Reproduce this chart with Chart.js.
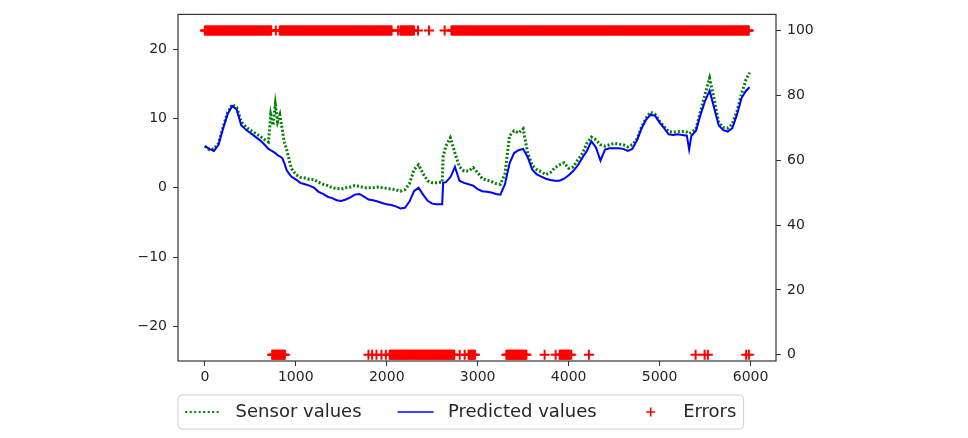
<!DOCTYPE html>
<html lang="en">
<head>
<meta charset="UTF-8">
<title>Sensor values vs predicted values</title>
<style>
  body { margin: 0; background: #fff; }
  #chart { display: block; }
</style>
</head>
<body>
<canvas id="chart" width="968" height="438"></canvas>
<script src="https://cdn.jsdelivr.net/npm/chart.js"></script>
<script>
// sample positions (x axis) shared by both lines
const steps = [0, 50, 100, 150, 200, 250, 300, 350, 400, 450, 500, 550, 600, 650, 700, 725, 750, 775, 800, 825, 850, 875, 900, 950,
  1000, 1050, 1100, 1150, 1200, 1250, 1300, 1350, 1400, 1450, 1500, 1550, 1600, 1650, 1700, 1750, 1800, 1850, 1900, 1950,
  2000, 2050, 2100, 2150, 2200, 2250, 2300, 2350, 2400, 2450, 2500, 2550, 2600, 2610, 2620, 2650, 2700, 2750, 2800, 2850,
  2900, 2950, 3000, 3050, 3100, 3150, 3200, 3250, 3300, 3350, 3400, 3450, 3500, 3550, 3600, 3650, 3700, 3750, 3800, 3850,
  3900, 3950, 4000, 4050, 4100, 4150, 4200, 4250, 4300, 4350, 4400, 4450, 4500, 4550, 4600, 4650, 4700, 4750, 4800, 4850,
  4900, 4950, 5000, 5050, 5100, 5150, 5200, 5250, 5300, 5325, 5350, 5400, 5450, 5500, 5550, 5600, 5650, 5700, 5750, 5800,
  5850, 5900, 5950, 5990];

const sensorValues = [6.0, 5.5, 5.6, 6.4, 8.7, 10.8, 12.0, 11.6, 9.5, 8.8, 8.3, 7.9, 7.5, 7.0, 6.6, 10.5, 9.0, 12.0, 9.5, 10.5, 8.5, 6.5, 5.5, 2.8,
  1.9, 1.5, 1.4, 1.2, 1.2, 0.8, 0.5, 0.3, 0.0, -0.1, -0.2, 0.0, 0.1, 0.3, 0.2, 0.0, 0.0, 0.0, 0.1, 0.0,
  -0.1, -0.2, -0.3, -0.5, -0.3, 0.6, 2.6, 3.3, 2.0, 1.0, 0.7, 0.7, 0.8, 0.8, 4.5, 6.0, 7.2, 5.0, 3.0, 2.4,
  2.4, 2.9, 2.2, 1.3, 1.1, 0.9, 0.6, 0.5, 2.0, 7.5, 8.2, 7.9, 8.5, 5.0, 3.2, 2.6, 2.3, 1.9, 2.2, 2.9,
  3.3, 3.6, 2.8, 3.0, 4.0, 4.9, 6.4, 7.3, 6.9, 6.2, 6.0, 6.2, 6.4, 6.3, 6.2, 5.9, 6.2, 7.0, 8.7, 10.0,
  10.9, 10.6, 9.6, 8.8, 8.1, 8.0, 8.1, 8.1, 8.0, 7.8, 8.0, 8.5, 11.0, 13.5, 15.8, 12.8, 9.4, 8.7, 8.6, 9.2,
  11.0, 13.5, 15.6, 16.6];

const predictedValues = [6.0, 5.6, 5.3, 6.2, 8.5, 10.6, 11.8, 11.3, 9.0, 8.4, 7.9, 7.4, 6.9, 6.3, 5.6, 5.4, 5.2, 5.0, 4.7, 4.5, 4.3, 3.5, 2.5, 1.6,
  1.2, 0.7, 0.5, 0.3, 0.0, -0.6, -0.9, -1.3, -1.5, -1.8, -1.9, -1.7, -1.4, -1.0, -0.9, -1.3, -1.7, -1.8, -2.0, -2.2,
  -2.4, -2.5, -2.7, -3.0, -2.9, -2.0, -0.5, 0.0, -1.0, -1.9, -2.3, -2.4, -2.4, -2.4, 0.7, 0.8, 1.5, 3.0, 1.0, 0.7,
  0.5, 0.3, -0.2, -0.5, -0.6, -0.7, -0.9, -1.0, 0.5, 3.5, 5.0, 5.4, 5.6, 4.4, 2.6, 1.9, 1.6, 1.3, 1.1, 1.0,
  1.0, 1.3, 1.8, 2.4, 3.2, 4.3, 5.3, 6.7, 5.8, 3.9, 5.5, 5.7, 5.7, 5.7, 5.6, 5.3, 5.6, 6.8, 8.5, 9.8,
  10.5, 10.4, 9.4, 8.6, 7.7, 7.6, 7.7, 7.6, 7.5, 5.5, 7.5, 8.2, 10.5, 12.5, 14.0, 11.5, 9.0, 8.3, 8.1, 8.6,
  10.5, 12.9, 14.0, 14.5];

// error flags: runs of flagged samples [from, to] and single flagged samples
const errorTopRuns = [[0, 733], [824, 2062], [2150, 2300], [2711, 5989]];
const errorTopSingles = [780, 2125, 2344, 2465, 2637];
const errorBottomRuns = [[740, 880], [2033, 2747], [2900, 2970], [3315, 3535], [3901, 4011]];
const errorBottomSingles = [1799, 1839, 1887, 1942, 1990, 2802, 2857, 3736, 3857, 4029, 4223, 5396, 5495, 5531, 5952, 5982];
const errorLevels = [100, 0];   // top row / bottom row on right axis

const leftTicks = [-20, -10, 0, 10, 20];
const rightTicks = [0, 20, 40, 60, 80, 100];
const xTicks = [0, 1000, 2000, 3000, 4000, 5000, 6000];

const FONT = "'DejaVu Sans', sans-serif";
const INK = '#262626';

function flagged(runs, singles, level) {
  const pts = [];
  runs.forEach(([a, b]) => {
    for (let s = a; s <= b; s += 10) pts.push({ x: s, y: level });
  });
  singles.forEach(s => pts.push({ x: s, y: level }));
  return pts;
}

const errorPoints = flagged(errorTopRuns, errorTopSingles, errorLevels[0])
  .concat(flagged(errorBottomRuns, errorBottomSingles, errorLevels[1]));

function keepTicks(list) {
  return scale => { scale.ticks = list.map(v => ({ value: v })); };
}

const frame = {
  id: 'frame',
  afterDraw(chart) {
    const { ctx, chartArea: a } = chart;
    ctx.save();
    ctx.strokeStyle = '#333';
    ctx.lineWidth = 1.2;
    ctx.strokeRect(a.left, a.top, a.right - a.left, a.bottom - a.top);
    ctx.restore();
  }
};

// matplotlib-like legend under the axes
const bottomLegend = {
  id: 'bottomLegend',
  afterDraw(chart) {
    const ctx = chart.ctx;
    const fs = 18;
    const cy = 412;
    const left = 178;
    ctx.save();
    ctx.font = fs + 'px ' + FONT;
    const items = [
      { label: 'Sensor values', kind: 'dots' },
      { label: 'Predicted values', kind: 'line' },
      { label: 'Errors', kind: 'plus' }
    ];
    let x = left + 0.4 * fs;
    const layout = items.map(it => {
      const w = ctx.measureText(it.label).width;
      const o = { ...it, hx: x, tx: x + 2 * fs + 0.8 * fs, w };
      x = o.tx + w + 2 * fs;
      return o;
    });
    const last = layout[layout.length - 1];
    const right = last.tx + last.w + 0.4 * fs;
    const top = 395, h = 34, r = 4;
    ctx.beginPath();
    ctx.moveTo(left + r, top);
    ctx.arcTo(right, top, right, top + h, r);
    ctx.arcTo(right, top + h, left, top + h, r);
    ctx.arcTo(left, top + h, left, top, r);
    ctx.arcTo(left, top, right, top, r);
    ctx.closePath();
    ctx.fillStyle = 'rgba(255,255,255,0.8)';
    ctx.fill();
    ctx.strokeStyle = '#d0d0d0';
    ctx.lineWidth = 1;
    ctx.stroke();

    layout.forEach(it => {
      const hx = it.hx, hw = 2 * fs;
      if (it.kind === 'dots') {
        ctx.strokeStyle = '#008000';
        ctx.lineWidth = 2;
        ctx.setLineDash([2, 2.5]);
        ctx.beginPath(); ctx.moveTo(hx, cy); ctx.lineTo(hx + hw, cy); ctx.stroke();
        ctx.setLineDash([]);
      } else if (it.kind === 'line') {
        ctx.strokeStyle = '#0000ff';
        ctx.lineWidth = 1.5;
        ctx.beginPath(); ctx.moveTo(hx, cy); ctx.lineTo(hx + hw, cy); ctx.stroke();
      } else {
        const c = hx + hw / 2;
        ctx.strokeStyle = '#ff0000';
        ctx.lineWidth = 1.5;
        ctx.beginPath();
        ctx.moveTo(c - 4.5, cy); ctx.lineTo(c + 4.5, cy);
        ctx.moveTo(c, cy - 4.5); ctx.lineTo(c, cy + 4.5);
        ctx.stroke();
      }
      ctx.fillStyle = INK;
      ctx.textBaseline = 'middle';
      ctx.fillText(it.label, it.tx, cy);
    });
    ctx.restore();
  }
};

const tickGrid = { display: true, drawOnChartArea: false, drawTicks: true, tickLength: 5, color: '#333', lineWidth: 1 };
const tickFont = { family: FONT, size: 14 };

const config = {
  type: 'line',
  data: {
    datasets: [
      {
        label: 'Sensor values',
        data: steps.map((s, i) => ({ x: s, y: sensorValues[i] })),
        borderColor: '#008000',
        borderWidth: 3,
        borderDash: [2, 2],
        pointRadius: 0,
        tension: 0,
        yAxisID: 'y',
        order: 2
      },
      {
        label: 'Predicted values',
        data: steps.map((s, i) => ({ x: s, y: predictedValues[i] })),
        borderColor: '#0000ff',
        borderWidth: 2,
        pointRadius: 0,
        tension: 0,
        yAxisID: 'y',
        order: 1
      },
      {
        label: 'Errors',
        data: errorPoints,
        showLine: false,
        pointStyle: 'cross',
        pointRadius: 5,
        pointBorderWidth: 2,
        pointBorderColor: '#ff0000',
        pointBackgroundColor: '#ff0000',
        borderColor: '#ff0000',
        yAxisID: 'y2',
        order: 0
      }
    ]
  },
  options: {
    responsive: false,
    animation: false,
    devicePixelRatio: 1,
    layout: { padding: { top: 12, bottom: 47, left: 0, right: 0 } },
    plugins: { legend: { display: false }, tooltip: { enabled: false } },
    scales: {
      x: {
        type: 'linear',
        min: -295,
        max: 6280,
        grid: tickGrid,
        border: { display: false },
        afterBuildTicks: keepTicks(xTicks),
        afterFit: s => { s.height = 30; },
        ticks: { font: tickFont, color: INK, padding: 3, maxRotation: 0, callback: v => String(v) }
      },
      y: {
        position: 'left',
        min: -25,
        max: 25,
        grid: tickGrid,
        border: { display: false },
        afterBuildTicks: keepTicks(leftTicks),
        afterFit: s => { s.width = 178; },
        ticks: { font: tickFont, color: INK, padding: 6, callback: v => v < 0 ? '\u2212' + Math.abs(v) : String(v) }
      },
      y2: {
        position: 'right',
        min: -1.9,
        max: 105,
        grid: tickGrid,
        border: { display: false },
        afterBuildTicks: keepTicks(rightTicks),
        afterFit: s => { s.width = 192; },
        ticks: { font: tickFont, color: INK, padding: 6, callback: v => String(v) }
      }
    }
  },
  plugins: [frame, bottomLegend]
};

new Chart(document.getElementById('chart').getContext('2d'), config);
</script>
</body>
</html>
